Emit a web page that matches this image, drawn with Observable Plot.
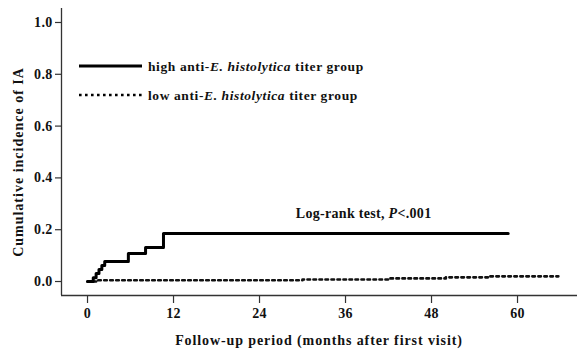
<!DOCTYPE html>
<html>
<head>
<meta charset="utf-8">
<script src="https://cdn.jsdelivr.net/npm/d3@7"></script>
<script src="https://cdn.jsdelivr.net/npm/@observablehq/plot@0.6"></script>
<style>
  html, body { margin: 0; padding: 0; background: #fff; }
  #chart { width: 577px; height: 354px; }
</style>
</head>
<body>
<div id="chart"></div>
<script>
// ---- data ----
const highMonths    = [0, 0.8, 1.2, 1.6, 2.0, 2.4, 5.7, 8.1, 10.6, 58.7];
const highIncidence = [0, 0.015, 0.031, 0.046, 0.062, 0.077, 0.108, 0.131, 0.185, 0.185];
const lowMonths     = [0, 1.5, 30, 42, 50, 56, 65.7];
const lowIncidence  = [0, 0.005, 0.008, 0.012, 0.016, 0.02, 0.02];
const xTicks = [0, 12, 24, 36, 48, 60];
const yTicks = [0, 0.2, 0.4, 0.6, 0.8, 1.0];
const groupLabels = ["high", "low"];
const xTitle = "Follow-up period (months after first visit)";
const yTitle = "Cumulative incidence of IA";

const high = highMonths.map((m, i) => ({month: m, value: highIncidence[i]}));
const low = lowMonths.map((m, i) => ({month: m, value: lowIncidence[i]}));

const font = "'Liberation Serif', 'Times New Roman', serif";
const xDomain = [-3.63, 68.37];
const yDomain = [-0.054, 1.054];

const plot = Plot.plot({
  width: 577,
  height: 354,
  marginLeft: 61,
  marginRight: 0,
  marginTop: 8,
  marginBottom: 59,
  style: {fontFamily: font, fontWeight: "bold", fontSize: "14px", letterSpacing: "0.3px", color: "#111", background: "#fff"},
  x: {domain: xDomain},
  y: {domain: yDomain},
  marks: [
    Plot.axisX({ticks: xTicks, tickSize: 8, tickPadding: 5, label: null, stroke: "#333", strokeWidth: 1.2}),
    Plot.axisY({ticks: yTicks, tickSize: 6, tickPadding: 3, tickFormat: d3.format(".1f"), label: null, stroke: "#333", strokeWidth: 1.2}),
    Plot.ruleX([xDomain[0]], {stroke: "#333", strokeWidth: 1.3}),
    Plot.ruleY([yDomain[0]], {stroke: "#333", strokeWidth: 1.3}),
    Plot.line(low, {x: "month", y: "value", curve: "step-after", stroke: "#111", strokeWidth: 2.6, strokeDasharray: "2.6,3.4"}),
    Plot.line(high, {x: "month", y: "value", curve: "step-after", stroke: "#000", strokeWidth: 3})
  ]
});
document.getElementById("chart").appendChild(plot);

const svg = d3.select(plot);
const sx = plot.scale("x"), sy = plot.scale("y");

// x axis title
svg.append("text")
  .attr("x", 319).attr("y", 340).attr("dy", "0.35em")
  .attr("text-anchor", "middle")
  .attr("font-size", 14).attr("letter-spacing", "0.9px")
  .attr("font-family", font).attr("font-weight", "bold")
  .attr("fill", "#111")
  .text(xTitle);

// y axis title
svg.append("text")
  .attr("transform", `translate(18,162) rotate(-90)`)
  .attr("text-anchor", "middle").attr("dy", "0.35em")
  .attr("font-size", 14).attr("letter-spacing", "1px")
  .attr("font-family", font).attr("font-weight", "bold")
  .attr("fill", "#111")
  .text(yTitle);

// legend
const legend = svg.append("g").attr("font-family", font).attr("font-weight", "bold")
  .attr("font-size", 13.5).attr("letter-spacing", "0.6px").attr("fill", "#111").attr("text-anchor", "start");
[
  {y: 66, dash: null, name: groupLabels[0]},
  {y: 95, dash: "2.6,3.4", name: groupLabels[1]}
].forEach(d => {
  legend.append("line")
    .attr("x1", 79).attr("x2", 142).attr("y1", d.y).attr("y2", d.y)
    .attr("stroke", "#000").attr("stroke-width", d.dash ? 2.6 : 3)
    .attr("stroke-dasharray", d.dash);
  const t = legend.append("text").attr("x", 148).attr("y", d.y).attr("dy", "0.35em");
  t.append("tspan").text(d.name + " anti-");
  t.append("tspan").attr("font-style", "italic").text("E. histolytica");
  t.append("tspan").text(" titer group");
});

// annotation
const ann = svg.append("text")
  .attr("x", sx.apply(38.6)).attr("y", sy.apply(0.263))
  .attr("text-anchor", "middle").attr("dy", "0.35em")
  .attr("font-family", font).attr("font-weight", "bold").attr("font-size", 14)
  .attr("letter-spacing", "0.3px")
  .attr("fill", "#111");
ann.append("tspan").text("Log-rank test, ");
ann.append("tspan").attr("font-style", "italic").text("P");
ann.append("tspan").text("<.001");
</script>
</body>
</html>
